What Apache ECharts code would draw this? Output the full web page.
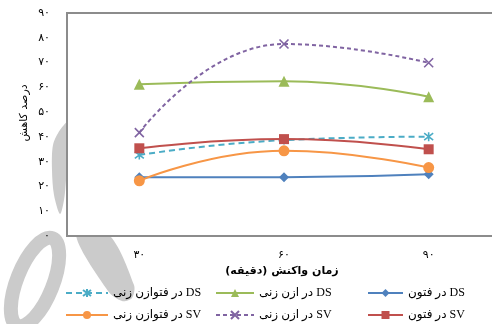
<!DOCTYPE html>
<html>
<head>
<meta charset="utf-8">
<script src="https://cdn.jsdelivr.net/npm/echarts@6/dist/echarts.min.js"></script>
<style>
  html, body { margin: 0; padding: 0; background: #fff; }
  #chart { width: 492px; height: 324px; }
</style>
</head>
<body>
<div id="chart"></div>
<script>
// Reaction time (minutes) on the category axis
const categories = ['۳۰', '۶۰', '۹۰'];
// Persian tick labels for the reduction-percentage axis (0..90 step 10)
const yTickLabels = ['۰', '۱۰', '۲۰', '۳۰', '۴۰', '۵۰', '۶۰', '۷۰', '۸۰', '۹۰'];

const seriesNames = [
  'DS در فتون',
  'DS در ازن زنی',
  'DS در فتوازن زنی',
  'SV در فتون',
  'SV در ازن زنی',
  'SV در فتوازن زنی'
];

// Reduction percentage per process
const dsFenton = [23.7, 23.7, 24.9];
const dsOzone = [61.2, 62.5, 56.2];
const dsPhotoOzone = [32.7, 38.7, 40.1];
const svFenton = [35.4, 39.1, 35.0];
const svOzone = [41.7, 77.5, 69.9];
const svPhotoOzone = [22.3, 34.4, 27.6];

const RLI = '\u2067', PDI = '\u2069';
const rtl = s => RLI + s + PDI;

const xMark = 'path://M0,0L10,10M10,0L0,10';
const starMark = 'path://M0,0L10,10M10,0L0,10M5,-1.5L5,11.5';

function lineSeries(name, data, color, symbol, size, dash, stroke) {
  return {
    name: name,
    type: 'line',
    data: data,
    smooth: 0.5,
    symbol: symbol,
    symbolSize: size,
    color: color,
    lineStyle: { color: color, width: 2, type: dash || 'solid' },
    itemStyle: stroke
      ? { color: color, borderColor: color, borderWidth: 1.6 }
      : { color: color },
    z: 3
  };
}

const series = [
  lineSeries(seriesNames[0], dsFenton, '#4F81BD', 'diamond', 10),
  lineSeries(seriesNames[1], dsOzone, '#9BBB59', 'triangle', 11),
  lineSeries(seriesNames[2], dsPhotoOzone, '#4BACC6', starMark, 9, [6, 4], true),
  lineSeries(seriesNames[3], svFenton, '#C0504D', 'rect', 10),
  lineSeries(seriesNames[4], svOzone, '#8064A2', xMark, 9, [4, 3], true),
  lineSeries(seriesNames[5], svPhotoOzone, '#F79646', 'circle', 11)
];

// Legend slots: three columns, right to left, two rows
const legendSlots = [
  { i: 0, left: 367, top: 287, w: 35 },
  { i: 1, left: 215, top: 287, w: 38 },
  { i: 2, left: 65, top: 287, w: 42 },
  { i: 3, left: 367, top: 309, w: 35 },
  { i: 4, left: 215, top: 309, w: 38 },
  { i: 5, left: 65, top: 309, w: 42 }
];

const legendFont = "'Liberation Serif', 'DejaVu Sans', serif";

const legends = legendSlots.map(s => ({
  data: [seriesNames[s.i]],
  left: s.left,
  top: s.top,
  padding: 0,
  itemWidth: s.w,
  itemHeight: 10,
  selectedMode: false,
  formatter: n => rtl(n),
  textStyle: { fontFamily: legendFont, fontSize: 12, color: '#000' }
}));

const wm = '#cbcbcb';

const option = {
  animation: false,
  backgroundColor: '#fff',
  textStyle: { fontFamily: "'DejaVu Sans', sans-serif" },
  grid: {
    left: 67, top: 13, width: 434, height: 223,
    outerBoundsMode: 'none',
    containLabel: false,
    show: true,
    borderColor: '#8c8c8c',
    borderWidth: 2,
    backgroundColor: '#fff',
    z: 1
  },
  legend: legends,
  xAxis: {
    type: 'category',
    data: categories,
    boundaryGap: true,
    axisLine: { show: false },
    axisTick: { show: false },
    axisLabel: { margin: 14, fontSize: 11, color: '#000' },
    name: rtl('زمان واکنش (دقیقه)'),
    nameLocation: 'middle',
    nameGap: 15,
    nameTextStyle: { fontSize: 11, fontWeight: 'bold', color: '#000', padding: [0, 4, 0, 0] }
  },
  yAxis: {
    type: 'value',
    min: 0,
    max: 90,
    interval: 10,
    splitLine: { show: false },
    axisLine: { show: false },
    axisTick: { show: false },
    axisLabel: {
      margin: 17,
      fontSize: 11,
      color: '#000',
      formatter: v => yTickLabels[Math.round(v / 10)]
    }
  },
  graphic: [
    // faint background emblem
    {
      type: 'group', x: 35, y: 282, rotation: -0.38, z: -10,
      children: [{
        type: 'ellipse',
        shape: { cx: 0, cy: 0, rx: 18, ry: 47 },
        style: { fill: 'none', stroke: wm, lineWidth: 14 }
      }]
    },
    {
      type: 'polygon', z: -10,
      shape: { points: [[76, 234], [108, 234], [134, 285], [132, 298], [122, 301], [108, 291]], smooth: 0.3 },
      style: { fill: wm }
    },
    {
      type: 'polygon', z: -10,
      shape: { points: [[70, 120], [60, 130], [53, 145], [52, 170], [54, 195], [60, 214], [64, 200], [66, 180], [68, 150]], smooth: 0.3 },
      style: { fill: wm }
    },
    {
      type: 'text', x: 24, y: 113, rotation: Math.PI / 2, z: 5,
      style: {
        text: 'درصد کاهش',
        fontSize: 11,
        fontFamily: "'DejaVu Sans', sans-serif",
        fill: '#000',
        align: 'center',
        verticalAlign: 'middle'
      }
    }
  ],
  series: series
};

const chart = echarts.init(document.getElementById('chart'), null, { renderer: 'canvas' });
chart.setOption(option);
</script>
</body>
</html>
